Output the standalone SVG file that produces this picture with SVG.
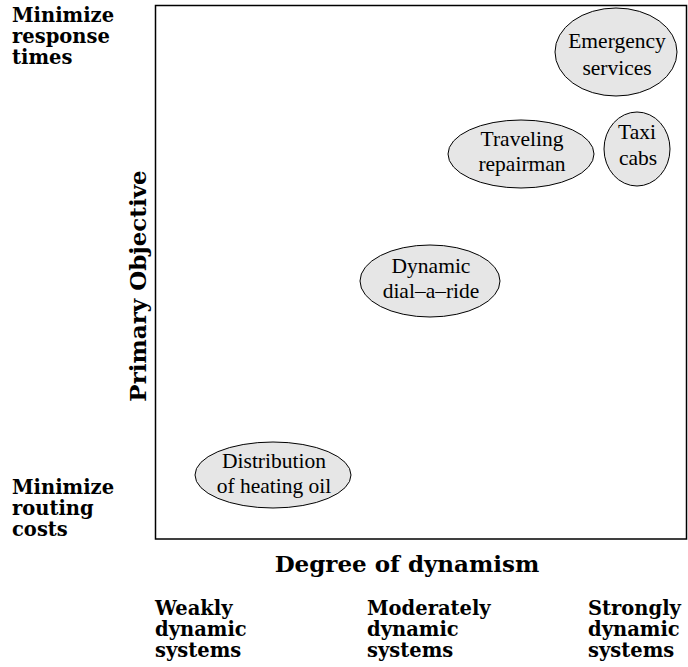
<svg xmlns="http://www.w3.org/2000/svg" width="688" height="667" viewBox="0 0 688 667">
<style>
.bg{fill:#ffffff}
.frame{fill:none;stroke:#000;stroke-width:1.5}
.node ellipse{fill:#e6e6e6;stroke:#000;stroke-width:1}
.nl{font-family:"Liberation Serif","Times New Roman",serif;font-size:21.5px;fill:#000;text-anchor:middle}
.lab{font-family:"DejaVu Serif",serif;font-weight:bold;font-size:19.5px;fill:#000}
.axis{font-family:"DejaVu Serif",serif;font-weight:bold;font-size:23px;fill:#000;text-anchor:middle}
</style>
<rect class="bg" x="0" y="0" width="688" height="667"/>
<rect class="frame" x="155.5" y="5.5" width="531" height="533.5"/>
<g id="connectors"></g>
<g id="emergency" class="node">
<ellipse cx="616" cy="52" rx="61" ry="44"/>
<text class="nl" x="617" y="48">Emergency</text>
<text class="nl" x="617" y="75">services</text>
</g>
<g id="taxi" class="node">
<ellipse cx="637" cy="149" rx="33" ry="37"/>
<text class="nl" x="637" y="139">Taxi</text>
<text class="nl" x="638" y="165">cabs</text>
</g>
<g id="repairman" class="node">
<ellipse cx="521" cy="154" rx="73" ry="34"/>
<text class="nl" x="522" y="146">Traveling</text>
<text class="nl" x="522" y="171">repairman</text>
</g>
<g id="dialaride" class="node">
<ellipse cx="430" cy="281" rx="70" ry="36"/>
<text class="nl" x="431" y="273">Dynamic</text>
<text class="nl" x="431" y="298">dial–a–ride</text>
</g>
<g id="heating" class="node">
<ellipse cx="273" cy="475" rx="78" ry="33"/>
<text class="nl" x="274" y="468">Distribution</text>
<text class="nl" x="274" y="493">of heating oil</text>
</g>
<g id="labels">
<text class="lab" x="12" y="22">Minimize</text>
<text class="lab" x="12" y="43">response</text>
<text class="lab" x="12" y="64">times</text>
<text class="lab" x="12" y="494">Minimize</text>
<text class="lab" x="12" y="515">routing</text>
<text class="lab" x="12" y="536">costs</text>
<text class="axis" transform="translate(146,286) rotate(-90)">Primary Objective</text>
<text class="axis" x="407" y="572">Degree of dynamism</text>
<text class="lab" x="155" y="615">Weakly</text>
<text class="lab" x="155" y="636">dynamic</text>
<text class="lab" x="155" y="657">systems</text>
<text class="lab" x="367" y="615">Moderately</text>
<text class="lab" x="367" y="636">dynamic</text>
<text class="lab" x="367" y="657">systems</text>
<text class="lab" x="588" y="615">Strongly</text>
<text class="lab" x="588" y="636">dynamic</text>
<text class="lab" x="588" y="657">systems</text>
</g>
</svg>
